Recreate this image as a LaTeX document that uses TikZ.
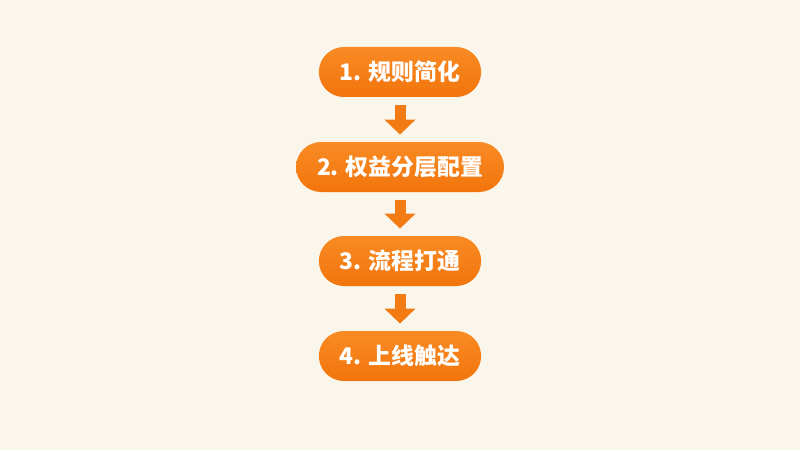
\documentclass[tikz,border=0pt]{standalone}
\usepackage{fontspec}
\newfontfamily\cjk{Noto Sans CJK SC}
\usetikzlibrary{arrows.meta}
\definecolor{bgcream}{HTML}{FBF6EC}
\definecolor{boxorange}{HTML}{F2740C}
\definecolor{boxtop}{HTML}{F98B24}
\definecolor{arroworange}{HTML}{F37B14}

\begin{document}
\begin{tikzpicture}[step box/.style={rectangle, rounded corners=0.5cm, minimum height=1cm, minimum width=3.05cm, inner xsep=0.42cm, top color=boxtop, bottom color=boxorange, draw=none, text=white, font=\cjk\bfseries\fontsize{13pt}{15pt}\selectfont, anchor=center},
  flow/.style={arroworange, line width=0.22cm, -{Triangle[width=0.6cm, length=0.3cm]}, shorten <=0.16cm, shorten >=0.14cm}]

  \fill[bgcream] (0,0) rectangle (16,9);
  \useasboundingbox (0,0) rectangle (16,9);

  \node[step box] (S1) at (8, 7.56) {1. 规则简化};
  \node[step box] (S2) at (8, 5.66) {2. 权益分层配置};
  \node[step box] (S3) at (8, 3.78) {3. 流程打通};
  \node[step box] (S4) at (8, 1.88) {4. 上线触达};

  \draw[flow] (S1) -- (S2);
  \draw[flow] (S2) -- (S3);
  \draw[flow] (S3) -- (S4);

\end{tikzpicture}
\end{document}
